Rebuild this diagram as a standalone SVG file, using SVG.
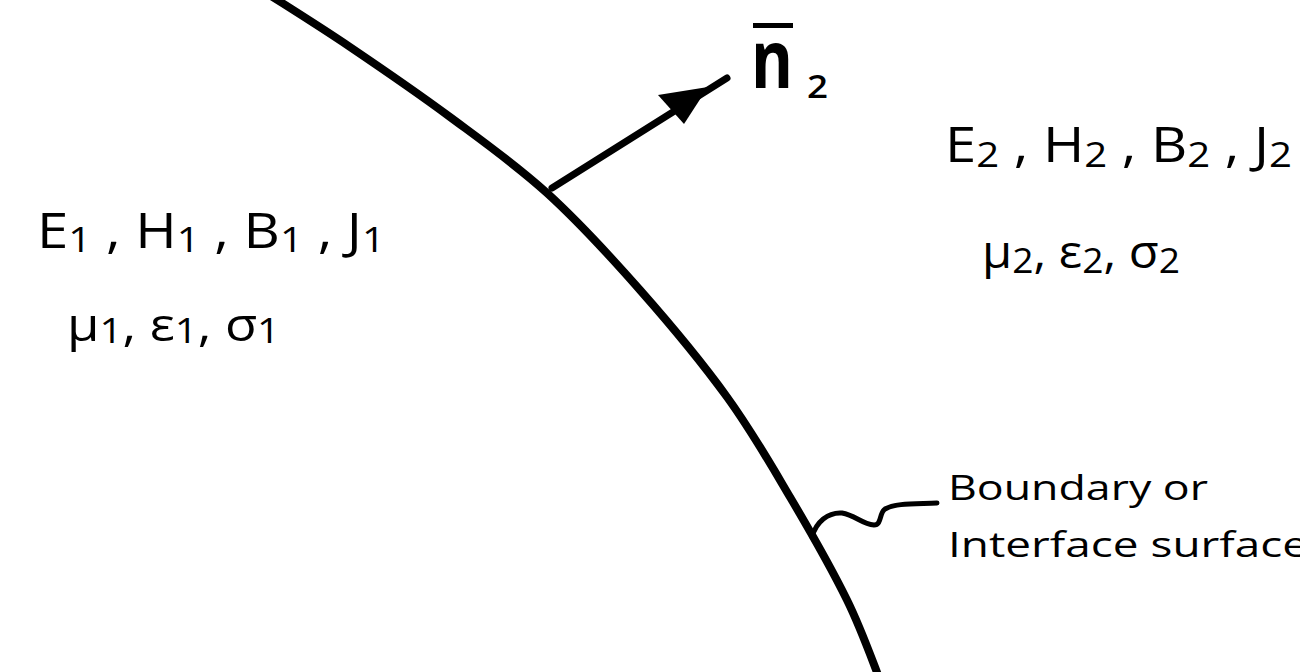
<svg xmlns="http://www.w3.org/2000/svg" width="1300" height="672" viewBox="0 0 1300 672">
<style>
text{font-family:"Open Sans","DejaVu Sans",sans-serif;fill:#000}
.big{font-size:49px}
.mid{font-size:46px}
.lbl{font-size:35px}
.sub{font-size:35px}
.line{fill:none;stroke:#000;stroke-linecap:round;stroke-linejoin:round}
</style>
<rect width="1300" height="672" fill="#fff"/>
<g id="boundary">
<path class="line" stroke-width="8" d="M268,-6 C281.7,2.8 319.7,26.5 350,47 C380.3,67.5 417.2,92.7 450,117 C482.8,141.3 515.3,164.2 547,193 C578.7,221.8 610,256 640,290 C670,324 702,362.5 727,397 C752,431.5 770,463.2 790,497 C810,530.8 832,569.5 847,600 C862,630.5 874.5,666.7 880,680"/>
</g>
<g id="connectors">
<path class="line" stroke-width="7" d="M552,188 L727,78"/>
<polygon points="708,87 658,95 684,124" fill="#000"/>
<path class="line" stroke-width="5" d="M812,537 C816,522 828,512 842,513 C855,515 862,524 874,525 C882,525 879,513 885,509 C895,503 915,504 937,503"/>
</g>
<g id="normal">
<text x="751" y="88" textLength="42" lengthAdjust="spacingAndGlyphs" style="font-size:80px;font-weight:bold">n</text>
<rect x="753" y="23" width="40" height="5" fill="#000"/>
<text x="807" y="98" textLength="21" lengthAdjust="spacingAndGlyphs" style="font-size:32px;font-weight:600">2</text>
</g>
<g id="region1">
<text class="big" x="37" y="248" textLength="348" lengthAdjust="spacingAndGlyphs">E<tspan class="sub" dy="4">1</tspan><tspan dy="-4"> , H</tspan><tspan class="sub" dy="4">1</tspan><tspan dy="-4"> , B</tspan><tspan class="sub" dy="4">1</tspan><tspan dy="-4"> , J</tspan><tspan class="sub" dy="4">1</tspan></text>
<text class="mid" x="67" y="341" textLength="213" lengthAdjust="spacingAndGlyphs">μ<tspan class="sub" dy="2">1</tspan><tspan dy="-2">, ε</tspan><tspan class="sub" dy="2">1</tspan><tspan dy="-2">, σ</tspan><tspan class="sub" dy="2">1</tspan></text>
</g>
<g id="region2">
<text class="big" x="945" y="162" textLength="347" lengthAdjust="spacingAndGlyphs">E<tspan class="sub" dy="5">2</tspan><tspan dy="-5"> , H</tspan><tspan class="sub" dy="5">2</tspan><tspan dy="-5"> , B</tspan><tspan class="sub" dy="5">2</tspan><tspan dy="-5"> , J</tspan><tspan class="sub" dy="5">2</tspan></text>
<text class="mid" x="982" y="268" textLength="198" lengthAdjust="spacingAndGlyphs">μ<tspan class="sub" dy="5">2</tspan><tspan dy="-5">, ε</tspan><tspan class="sub" dy="5">2</tspan><tspan dy="-5">, σ</tspan><tspan class="sub" dy="5">2</tspan></text>
</g>
<g id="label">
<text class="lbl" x="948" y="500" textLength="260" lengthAdjust="spacingAndGlyphs">Boundary or</text>
<text class="lbl" x="948" y="557" textLength="360" lengthAdjust="spacingAndGlyphs">Interface surface</text>
</g>
</svg>
